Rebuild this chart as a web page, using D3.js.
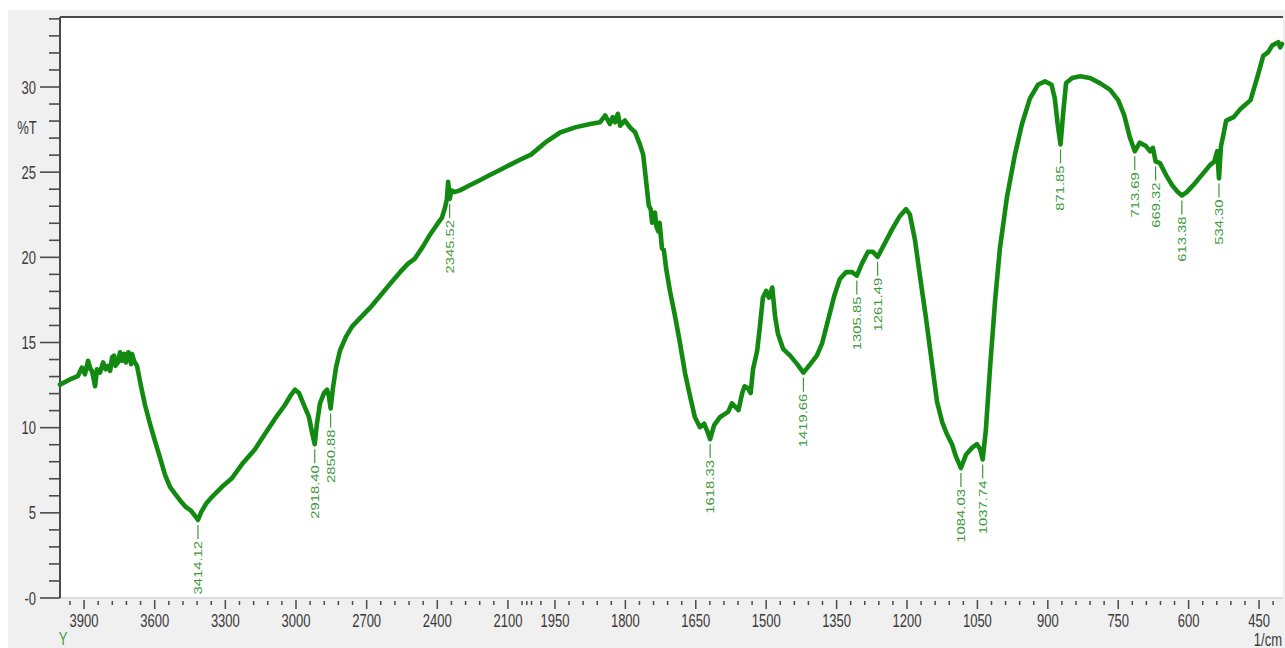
<!DOCTYPE html>
<html>
<head>
<meta charset="utf-8">
<script src="https://cdn.jsdelivr.net/npm/d3@7/dist/d3.min.js"></script>
<style>
  html, body { margin: 0; padding: 0; background: #ffffff; }
  svg { display: block; }
  text { font-family: "Liberation Sans", Arial, sans-serif; }
</style>
</head>
<body>
<svg id="chart" width="1285" height="648"></svg>
<script>
// FTIR spectrum: wavenumber (1/cm) and transmittance (%T)
const wavenumber = [
  4000, 3958, 3924, 3907, 3894, 3881, 3870, 3864, 3851, 3843, 3830, 3817, 3806, 3796, 3787, 3779,
  3770, 3765, 3754, 3745, 3737, 3728, 3720, 3710, 3703, 3698, 3694, 3686, 3673, 3656, 3639, 3618,
  3597, 3575, 3554, 3533, 3512, 3490, 3465, 3444, 3427, 3414.12, 3401, 3380, 3355, 3312, 3270, 3223,
  3172, 3130, 3087, 3045, 3019, 3002, 2985, 2964, 2943, 2930, 2918.40, 2909, 2896, 2879, 2866, 2858,
  2850.88, 2841, 2828, 2811, 2786, 2760, 2726, 2684, 2641, 2599, 2556, 2522, 2493, 2459, 2429, 2399,
  2378, 2365, 2357, 2352, 2348, 2345.52, 2338, 2325, 2302, 2260, 2217, 2175, 2132, 2090, 2047, 2000,
  1970, 1938, 1906, 1874, 1853, 1842, 1832, 1826, 1821, 1815, 1810, 1800, 1789, 1778, 1768, 1761,
  1755, 1749, 1745, 1742, 1736, 1733, 1729, 1726, 1721, 1717, 1712, 1704, 1693, 1683, 1672, 1661,
  1651, 1640, 1631, 1625, 1618.33, 1610, 1597, 1580, 1572, 1565, 1558, 1550, 1545, 1538, 1532, 1527,
  1518, 1512, 1506, 1499, 1493, 1486, 1480, 1474, 1463, 1448, 1433, 1419.66, 1405, 1391, 1380, 1367,
  1354, 1342, 1329, 1316, 1305.85, 1295, 1282, 1272, 1261.49, 1248, 1231, 1214, 1201, 1193, 1182, 1172,
  1159, 1146, 1135, 1124, 1114, 1103, 1095, 1084.03, 1073, 1060, 1050, 1043, 1037.74, 1031, 1022, 1011,
  1001, 986, 969, 954, 937, 920, 905, 891, 884, 878, 871.85, 866, 860, 847, 830, 809,
  788, 766, 749, 736, 724, 713.69, 703, 690, 681, 675, 669.32, 660, 647, 634, 622, 613.38,
  603, 586, 568, 553, 544, 538, 534.30, 530, 526, 519, 503, 488, 467, 452, 440, 430,
  421, 408, 404, 400
];
const transmittance = [
  12.5, 12.8, 13.0, 13.5, 13.1, 13.9, 13.4, 13.3, 12.4, 13.4, 13.2, 13.8, 13.4, 13.6, 13.3, 14.1,
  14.2, 13.6, 13.8, 14.4, 13.9, 14.3, 13.8, 14.4, 14.1, 13.7, 14.3, 13.9, 13.6, 12.4, 11.3, 10.2,
  9.2, 8.2, 7.2, 6.5, 6.1, 5.7, 5.3, 5.1, 4.8, 4.55, 5.0, 5.5, 5.9, 6.5, 7.0, 7.9,
  8.7, 9.6, 10.5, 11.3, 11.9, 12.2, 12.0, 11.3, 10.6, 9.7, 9.0, 10.2, 11.4, 12.0, 12.2, 11.8,
  11.1, 12.3, 13.5, 14.5, 15.3, 15.9, 16.4, 17.0, 17.7, 18.4, 19.1, 19.6, 19.9, 20.6, 21.3, 21.9,
  22.3, 22.9, 23.4, 24.4, 23.9, 23.4, 23.9, 23.8, 23.9, 24.2, 24.5, 24.8, 25.1, 25.4, 25.7, 26.0,
  26.7, 27.3, 27.6, 27.8, 27.9, 28.3, 27.8, 28.2, 27.9, 28.4, 27.7, 28.0, 27.6, 27.3, 26.6, 26.0,
  24.5, 23.0, 22.8, 22.0, 22.6, 21.8, 21.5, 22.0, 20.5, 20.4, 19.3, 18.0, 16.5, 15.0, 13.2, 11.8,
  10.6, 10.0, 10.2, 9.8, 9.3, 10.1, 10.6, 10.9, 11.4, 11.2, 11.0, 12.0, 12.4, 12.3, 12.0, 13.4,
  14.5, 16.0, 17.6, 18.0, 17.6, 18.2, 16.5, 15.5, 14.6, 14.2, 13.7, 13.2, 13.7, 14.2, 14.9, 16.3,
  17.7, 18.7, 19.1, 19.1, 18.9, 19.6, 20.3, 20.3, 20.0, 20.7, 21.6, 22.4, 22.8, 22.5, 21.0, 19.0,
  16.5, 13.8, 11.5, 10.3, 9.6, 9.0, 8.3, 7.6, 8.4, 8.8, 9.0, 8.7, 8.1, 9.8, 13.5, 17.5,
  20.5, 23.5, 26.0, 27.8, 29.3, 30.1, 30.3, 30.1, 29.3, 27.8, 26.6, 28.5, 30.2, 30.5, 30.6, 30.5,
  30.2, 29.8, 29.2, 28.3, 27.0, 26.2, 26.7, 26.5, 26.2, 26.4, 25.6, 25.5, 24.8, 24.2, 23.8, 23.6,
  23.8, 24.3, 24.9, 25.4, 25.6, 26.2, 24.6, 26.5, 27.0, 28.0, 28.2, 28.7, 29.2, 30.6, 31.8, 32.0,
  32.4, 32.6, 32.3, 32.5
];

// Annotated band positions (1/cm)
const peakWavenumbers = [3414.12, 2918.40, 2850.88, 2345.52, 1618.33, 1419.66, 1305.85, 1261.49,
                         1084.03, 1037.74, 871.85, 713.69, 669.32, 613.38, 534.30];

// Axis ticks and labels
const xMajorTicks = [3900, 3600, 3300, 3000, 2700, 2400, 2100, 1950, 1800, 1650, 1500, 1350, 1200, 1050, 900, 750, 600, 450];
const yMajorTicks = [0, 5, 10, 15, 20, 25, 30];
const yTickLabels = ["-0", "5", "10", "15", "20", "25", "30"];

const svg = d3.select("#chart");
const W = 1285, H = 648;
const plot = { left: 60, top: 17, right: 1283, bottom: 598 };

// Split wavenumber axis: 4000–2000 at half the scale of 2000–400
const x = d3.scaleLinear().domain([4000, 2000, 400]).range([60, 531, 1282]);
const y = d3.scaleLinear().domain([0, 34.08]).range([597.5, 17]);

const textColor = "#3a3a3a";
const axisColor = "#4a4a4a";
const lineColor = "#128a12";
const peakColor = "#3a983a";

// Panel background
svg.append("rect").attr("width", W).attr("height", H).attr("fill", "#ffffff");
svg.append("rect").attr("x", 8).attr("y", 10).attr("width", W - 8).attr("height", H - 10).attr("fill", "#f0f0f0");
svg.append("rect").attr("x", plot.left).attr("y", plot.top)
  .attr("width", plot.right - plot.left).attr("height", plot.bottom - plot.top).attr("fill", "#ffffff");
svg.append("line").attr("x1", plot.left).attr("x2", plot.right).attr("y1", plot.bottom).attr("y2", plot.bottom)
  .attr("stroke", "#d4d4d4").attr("stroke-width", 1.5);

// Y axis (major + minor ticks)
const yMinor = d3.range(0, 35, 1).filter(v => v % 5 !== 0);
const yAxisMajor = d3.axisLeft(y).tickValues(yMajorTicks).tickSize(20).tickPadding(4)
  .tickFormat((d, i) => yTickLabels[i]);
const yAxisMinor = d3.axisLeft(y).tickValues(yMinor).tickSize(11).tickFormat("");

const gyMinor = svg.append("g").attr("transform", `translate(${plot.left},0)`).call(yAxisMinor);
const gy = svg.append("g").attr("transform", `translate(${plot.left},0)`).call(yAxisMajor);
[gy, gyMinor].forEach(g => {
  g.select(".domain").remove();
  g.selectAll(".tick line").attr("stroke", axisColor).attr("stroke-width", 1.6);
});
gy.selectAll(".tick text")
  .attr("fill", textColor).attr("font-size", 13)
  .attr("dy", "0.36em")
  .attr("transform", "scale(1,1.4)");

// X axis (major + minor ticks)
const xMinor = d3.range(3960, 2000, -60).concat([2020, 2000]).concat(d3.range(1980, 400, -30))
  .filter(v => !xMajorTicks.includes(v));
const xAxisMajor = d3.axisBottom(x).tickValues(xMajorTicks).tickSize(9).tickFormat(d3.format("d"));
const xAxisMinor = d3.axisBottom(x).tickValues(xMinor).tickSize(4).tickFormat("");
const gxMinor = svg.append("g").attr("transform", `translate(0,601)`).call(xAxisMinor);
const gx = svg.append("g").attr("transform", `translate(0,600)`).call(xAxisMajor);
[gx, gxMinor].forEach(g => {
  g.select(".domain").remove();
  g.selectAll(".tick line").attr("stroke", axisColor).attr("stroke-width", 1.5);
});
gx.selectAll(".tick text")
  .attr("fill", textColor).attr("font-size", 13)
  .attr("y", 19.3).attr("dy", 0)
  .attr("transform", "scale(1,1.4)");

// Plot frame: dark left axis and top border
svg.append("line").attr("x1", plot.left).attr("x2", plot.left).attr("y1", plot.top).attr("y2", plot.bottom)
  .attr("stroke", axisColor).attr("stroke-width", 2);
svg.append("line").attr("x1", plot.left).attr("x2", plot.right).attr("y1", plot.top).attr("y2", plot.top)
  .attr("stroke", axisColor).attr("stroke-width", 2);

// Axis titles
svg.append("text").attr("transform", "translate(27,134) scale(1,1.4)")
  .attr("text-anchor", "middle").attr("font-size", 13).attr("fill", textColor).text("%T");
svg.append("text").attr("transform", "translate(1282,646) scale(1,1.4)")
  .attr("text-anchor", "end").attr("font-size", 13).attr("fill", textColor).text("1/cm");
svg.append("text").attr("transform", "translate(63,645) scale(1,1.4)")
  .attr("text-anchor", "middle").attr("font-size", 13).attr("fill", "#3aa03a").text("Y");

// Spectrum trace
const series = wavenumber.map((w, i) => ({ w, t: transmittance[i] }));
const line = d3.line().x(d => x(d.w)).y(d => y(d.t));
svg.append("path").datum(series)
  .attr("d", line)
  .attr("fill", "none")
  .attr("stroke", lineColor)
  .attr("stroke-width", 4.6)
  .attr("stroke-linejoin", "round")
  .attr("stroke-linecap", "round");

// Band annotations: leader line below the minimum, then the rotated value
const peaks = peakWavenumbers.map(w => {
  const idx = wavenumber.indexOf(w);
  return { w, t: transmittance[idx] };
});
const gPeaks = svg.append("g");
peaks.forEach(p => {
  const px = x(p.w);
  const py = y(p.t);
  const y0 = py + 5, y1 = py + 19;
  gPeaks.append("line").attr("x1", px).attr("x2", px).attr("y1", y0).attr("y2", y1)
    .attr("stroke", peakColor).attr("stroke-width", 1.2);
  gPeaks.append("text")
    .attr("transform", `translate(${px},${y1 + 2}) scale(1,1.35) rotate(-90)`)
    .attr("text-anchor", "end")
    .attr("dy", "0.36em")
    .attr("font-size", 11)
    .attr("fill", peakColor)
    .text(d3.format(".2f")(p.w));
});
</script>
</body>
</html>
